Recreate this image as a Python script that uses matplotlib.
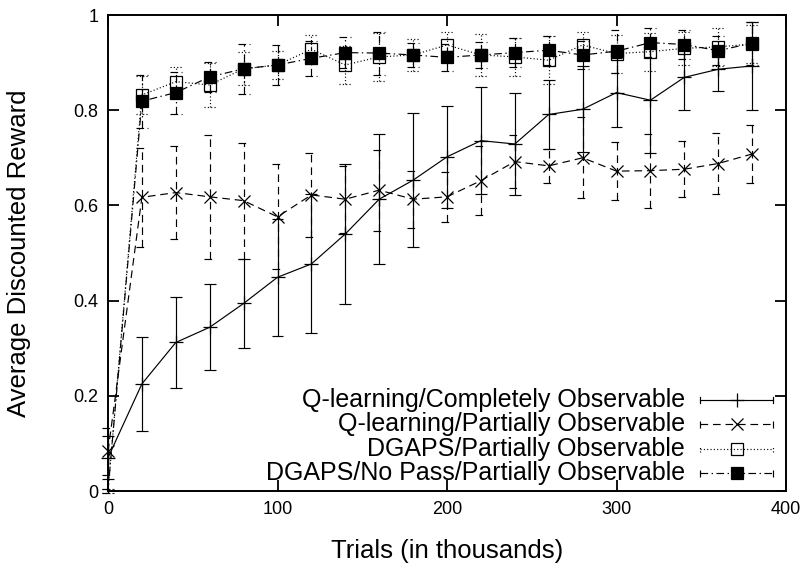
import numpy as np
import matplotlib
matplotlib.use("Agg")
import matplotlib.pyplot as plt
from matplotlib.ticker import FuncFormatter

plt.rcParams['font.family'] = ['Liberation Sans', 'DejaVu Sans']
plt.rcParams['lines.scale_dashes'] = False

# Trials (in thousands)
trials = [0, 20, 40, 60, 80, 100, 120, 140, 160, 180,
          200, 220, 240, 260, 280, 300, 320, 340, 360, 380]

q_complete = [0.070, 0.225, 0.312, 0.344, 0.394, 0.449, 0.477, 0.540, 0.613, 0.653,
              0.702, 0.736, 0.729, 0.791, 0.802, 0.837, 0.821, 0.869, 0.886, 0.893]
q_complete_err = [0.045, 0.098, 0.096, 0.090, 0.094, 0.123, 0.146, 0.147, 0.137, 0.141,
                  0.107, 0.112, 0.108, 0.073, 0.090, 0.072, 0.110, 0.069, 0.046, 0.092]

q_partial = [0.083, 0.617, 0.627, 0.618, 0.610, 0.576, 0.622, 0.613, 0.632, 0.613,
             0.618, 0.652, 0.692, 0.683, 0.700, 0.672, 0.673, 0.676, 0.688, 0.708]
q_partial_err = [0.050, 0.104, 0.097, 0.130, 0.122, 0.110, 0.089, 0.070, 0.085, 0.060,
                 0.053, 0.073, 0.056, 0.036, 0.085, 0.061, 0.078, 0.059, 0.064, 0.060]

dgaps = [0.000, 0.832, 0.860, 0.853, 0.887, 0.895, 0.928, 0.895, 0.912, 0.916,
         0.937, 0.916, 0.912, 0.905, 0.937, 0.919, 0.923, 0.930, 0.933, 0.939]
dgaps_err = [0.005, 0.040, 0.030, 0.046, 0.035, 0.030, 0.030, 0.040, 0.050, 0.033,
             0.028, 0.045, 0.040, 0.050, 0.027, 0.040, 0.040, 0.035, 0.040, 0.040]

dgaps_nopass = [0.000, 0.819, 0.837, 0.870, 0.887, 0.895, 0.909, 0.921, 0.920, 0.916,
                0.911, 0.916, 0.921, 0.926, 0.916, 0.924, 0.942, 0.938, 0.925, 0.941]
dgaps_nopass_err = [0.005, 0.056, 0.044, 0.032, 0.053, 0.042, 0.037, 0.032, 0.045, 0.025,
                    0.028, 0.028, 0.030, 0.030, 0.030, 0.045, 0.030, 0.030, 0.030, 0.045]

labels = ["Q-learning/Completely Observable",
          "Q-learning/Partially Observable",
          "DGAPS/Partially Observable",
          "DGAPS/No Pass/Partially Observable"]

x_ticks = [0, 100, 200, 300, 400]
y_ticks = [0, 0.2, 0.4, 0.6, 0.8, 1]

SOLID = '-'
DASHED = (0, (5.5, 3.5))
DOTTED = (0, (0.8, 1.6))
DASHDOT = (0, (5.5, 2.5, 1.0, 2.5))

# the DGAPS runs start at zero on the frame, where no symbol is drawn
styles = [
    dict(ls=SOLID, marker='+', ms=10, mfc='k', z=3, first=0),
    dict(ls=DASHED, marker='x', ms=9, mfc='k', z=4, first=0),
    dict(ls=DOTTED, marker='s', ms=9, mfc='none', z=5, first=1),
    dict(ls=DASHDOT, marker='s', ms=9, mfc='k', z=6, first=1),
]

LABEL_SIZE = 18.5
KEY_SIZE = 18
TICK_SIZE = 13

fig = plt.figure(figsize=(8.08, 5.70), dpi=100)
ax = fig.add_axes([108 / 808, 1 - 491 / 570, 678 / 808, 476 / 570])

series = [(q_complete, q_complete_err), (q_partial, q_partial_err),
          (dgaps, dgaps_err), (dgaps_nopass, dgaps_nopass_err)]

cap = 3.5  # half width of error-bar caps, in trial units
lw = 0.85
xs = np.asarray(trials, dtype=float)
for (mean, err), st in zip(series, styles):
    m = np.asarray(mean)
    e = np.asarray(err)
    lo, hi = m - e, m + e
    ax.vlines(xs, lo, hi, colors='k', linestyles=[st['ls']], linewidth=lw,
              zorder=st['z'], clip_on=False)
    ax.hlines(np.r_[lo, hi], np.r_[xs, xs] - cap, np.r_[xs, xs] + cap,
              colors='k', linestyles=[st['ls']], linewidth=lw,
              zorder=st['z'], clip_on=False)
    ax.plot(xs, m, color='k', linestyle=st['ls'], linewidth=lw,
            marker=st['marker'], markersize=st['ms'], markerfacecolor=st['mfc'],
            markeredgecolor='k', markeredgewidth=0.9, zorder=st['z'],
            markevery=list(range(st['first'], len(xs))), clip_on=False)

ax.set_xlim(0, 400)
ax.set_ylim(0, 1)
ax.set_xticks(x_ticks)
ax.set_yticks(y_ticks)
ax.yaxis.set_major_formatter(FuncFormatter(lambda v, p: f"{v:g}"))
ax.tick_params(direction='in', length=8, width=1.3, labelsize=TICK_SIZE,
               top=True, right=True, pad=7)
for sp in ax.spines.values():
    sp.set_linewidth(1.4)

fig.text(447 / 808, 1 - 551 / 570, "Trials (in thousands)", fontsize=LABEL_SIZE,
         ha='center', va='center')
fig.text(19 / 808, 1 - 253 / 570, "Average Discounted Reward", fontsize=LABEL_SIZE,
         ha='center', va='center', rotation=90)

# key in the lower right: right-aligned text followed by a line sample
row_y = [0.191, 0.140, 0.088, 0.037]
text_x = 0.851
samp_l, samp_r, samp_m = 0.873, 0.981, 0.927
tick_h = 0.007
for lab, st, ry in zip(labels, styles, row_y):
    ax.text(text_x, ry, lab, transform=ax.transAxes, ha='right', va='center',
            fontsize=KEY_SIZE)
    ax.plot([samp_l, samp_r], [ry, ry], transform=ax.transAxes, color='k',
            linestyle=st['ls'], linewidth=lw, zorder=8)
    for sx in (samp_l, samp_r):
        ax.plot([sx, sx], [ry - tick_h, ry + tick_h], transform=ax.transAxes,
                color='k', linestyle=st['ls'], linewidth=lw, zorder=8)
    ax.plot([samp_m], [ry], transform=ax.transAxes, color='k',
            marker=st['marker'], markersize=st['ms'], markerfacecolor=st['mfc'],
            markeredgecolor='k', markeredgewidth=0.9, zorder=8)

fig.savefig("out.png", dpi=100)
